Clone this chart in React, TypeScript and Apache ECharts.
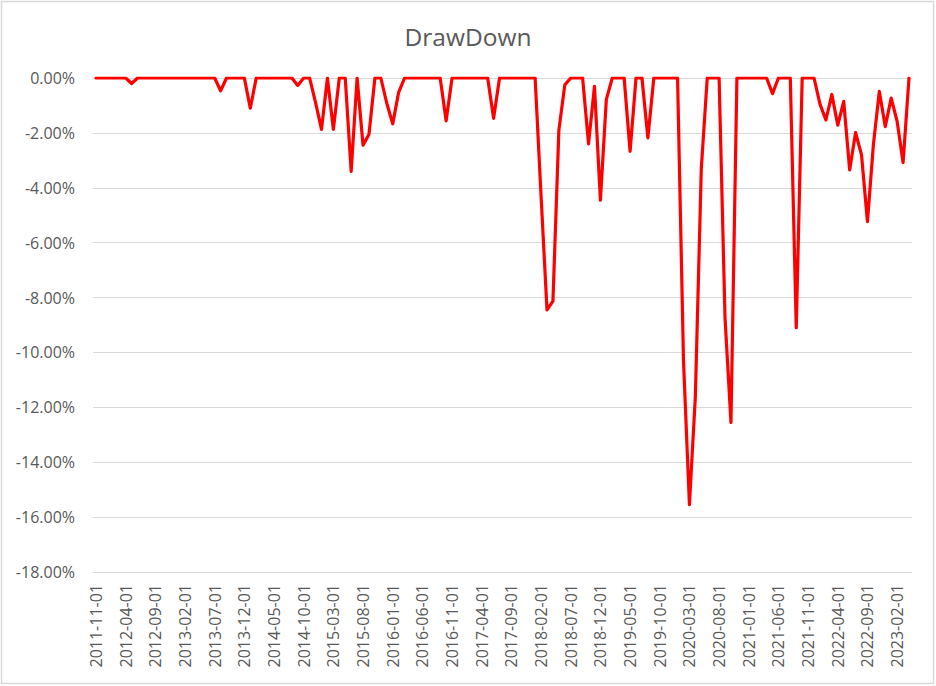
import React, { useEffect, useRef } from "react";
import * as echarts from "echarts";

// Monthly drawdown values in percent, grouped by year
const dd2011 = [0, 0]; // Nov-Dec
const dd2012 = [0, 0, 0, 0, -0.2, 0, 0, 0, 0, 0, 0, 0];
const dd2013 = [0, 0, 0, 0, 0, 0, 0, -0.47, 0, 0, 0, 0];
const dd2014 = [-1.1, 0, 0, 0, 0, 0, 0, 0, -0.27, 0, 0, -0.9];
const dd2015 = [-1.87, 0, -1.87, 0, 0, -3.4, 0, -2.45, -2.05, 0, 0, -0.92];
const dd2016 = [-1.67, -0.52, 0, 0, 0, 0, 0, 0, 0, -1.56, 0, 0];
const dd2017 = [0, 0, 0, 0, 0, -1.47, 0, 0, 0, 0, 0, 0];
const dd2018 = [0, -4.3, -8.45, -8.13, -1.9, -0.25, 0, 0, 0, -2.4, -0.3, -4.45];
const dd2019 = [-0.78, 0, 0, 0, -2.67, 0, 0, -2.18, 0, 0, 0, 0];
const dd2020 = [0, -10.3, -15.55, -11.6, -3.3, 0, 0, 0, -8.75, -12.55, 0, 0];
const dd2021 = [0, 0, 0, 0, -0.57, 0, 0, 0, -9.1, 0, 0, 0];
const dd2022 = [-0.95, -1.53, -0.6, -1.72, -0.85, -3.35, -1.99, -2.8, -5.23, -2.43, -0.49, -1.77];
const dd2023 = [-0.73, -1.58, -3.08, 0]; // Jan-Apr

const drawdown = [
  ...dd2011, ...dd2012, ...dd2013, ...dd2014, ...dd2015, ...dd2016, ...dd2017,
  ...dd2018, ...dd2019, ...dd2020, ...dd2021, ...dd2022, ...dd2023,
];

// Category labels: first day of each month from 2011-11 through 2023-04
const startYear = 2011;
const startMonth = 11;
const categories: string[] = drawdown.map((_, i) => {
  const m0 = startMonth - 1 + i;
  const y = startYear + Math.floor(m0 / 12);
  const m = (m0 % 12) + 1;
  return `${y}-${String(m).padStart(2, "0")}-01`;
});

const yMin = -18;
const yMax = 0;
const yStep = 2;

const FONT = "'Open Sans', 'Liberation Sans', sans-serif";
const GRAY = "#595959";

export default function App() {
  const ref = useRef<HTMLDivElement>(null);
  useEffect(() => {
    if (!ref.current) return;
    const chart = echarts.init(ref.current, null, { renderer: "svg" });
    chart.setOption({
      animation: false,
      backgroundColor: "#ffffff",
      title: {
        text: "DrawDown",
        left: "center",
        top: 16,
        textStyle: {
          fontFamily: FONT,
          fontSize: 24.5,
          fontWeight: "normal",
          color: GRAY,
          lineHeight: 30,
        },
      },
      graphic: [
        {
          type: "rect",
          shape: { x: 1.5, y: 1.5, width: 932, height: 682 },
          style: { fill: "none", stroke: "#d9d9d9", lineWidth: 1.5 },
          silent: true,
        },
      ],
      grid: [
        { left: 93, right: 24, top: 78, bottom: 114 },
        { left: 96, right: 27, top: 78, bottom: 114 },
      ],
      xAxis: [
        {
          gridIndex: 0,
          type: "value",
          show: false,
          min: 0,
          max: 1,
        },
        {
          gridIndex: 1,
          type: "category",
          data: categories,
          boundaryGap: false,
          axisLine: { show: false },
          axisTick: { show: false },
          axisLabel: {
            interval: 4,
            rotate: 90,
            margin: 12,
            fontFamily: FONT,
            fontSize: 16,
            color: GRAY,
          },
          splitLine: { show: false },
        },
      ],
      yAxis: [
        {
          gridIndex: 0,
          type: "value",
          min: yMin,
          max: yMax,
          interval: yStep,
          axisLine: { show: false },
          axisTick: { show: false },
          axisLabel: {
            margin: 18,
            fontFamily: FONT,
            fontSize: 16,
            color: GRAY,
            formatter: (v: number) => `${v.toFixed(2)}%`,
          },
          splitLine: { show: true, lineStyle: { color: "#d9d9d9", width: 1 } },
        },
        {
          gridIndex: 1,
          type: "value",
          min: yMin,
          max: yMax,
          interval: yStep,
          show: false,
          splitLine: { show: false },
        },
      ],
      series: [
        {
          type: "line",
          xAxisIndex: 1,
          yAxisIndex: 1,
          data: drawdown,
          showSymbol: false,
          symbol: "none",
          lineStyle: { color: "#ff0000", width: 3.2, join: "round", cap: "round" },
          itemStyle: { color: "#ff0000" },
        },
      ],
    });
    return () => chart.dispose();
  }, []);
  return (
    <div
      ref={ref}
      style={{ position: "fixed", left: 0, top: 0, width: 936, height: 686 }}
    />
  );
}
